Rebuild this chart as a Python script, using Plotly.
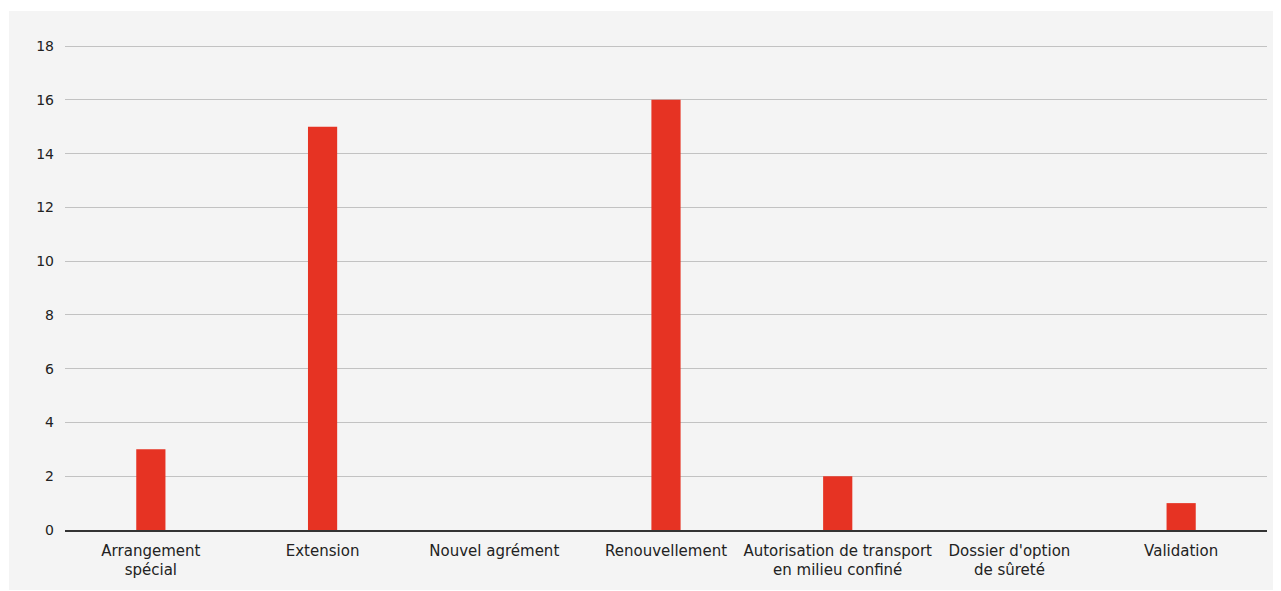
import plotly.graph_objects as go

categories = ["Arrangement<br>spécial", "Extension", "Nouvel agrément", "Renouvellement",
              "Autorisation de transport<br>en milieu confiné", "Dossier d'option<br>de sûreté", "Validation"]
values = [3, 15, 0, 16, 2, 0, 1]
y_ticks = [0, 2, 4, 6, 8, 10, 12, 14, 16, 18]

fig = go.Figure()
fig.add_trace(go.Bar(x=categories, y=values, marker=dict(color="#e63323", line=dict(width=0)),
                     width=0.17, hoverinfo="x+y"))

# page body has an 8px default margin, so the figure is drawn 8px smaller/offset
W, H = 1273, 583
L, R, T, B = 57, 14, 37, 61
pw, ph = W - L - R, H - T - B

fig.add_shape(type="rect", xref="paper", yref="paper",
              x0=(1 - L) / pw, x1=(1272 - L) / pw,
              y0=((H - B) - 582) / ph, y1=((H - B) - 3) / ph,
              fillcolor="#f4f4f4", line=dict(width=0), layer="below")

fig.update_layout(
    width=W, height=H,
    margin=dict(l=L, r=R, t=T, b=B, autoexpand=False),
    paper_bgcolor="white", plot_bgcolor="rgba(0,0,0,0)",
    font=dict(family="DejaVu Sans, Noto Sans, sans-serif", color="#222222"),
    showlegend=False,
    bargap=0.83,
)
fig.update_xaxes(showgrid=False, showline=True, linecolor="#333333", linewidth=1.5,
                 tickfont=dict(size=15, color="#222222"), ticks="", ticklabelstandoff=6,
                 automargin=False)
fig.update_yaxes(range=[0, 18.04], tickvals=y_ticks, showgrid=True, gridcolor="#c2c2c2", gridwidth=1,
                 zeroline=False, showline=False, ticks="", tickfont=dict(size=14, color="#222222"),
                 ticklabelstandoff=10, automargin=False)

fig.write_html("out.html")
